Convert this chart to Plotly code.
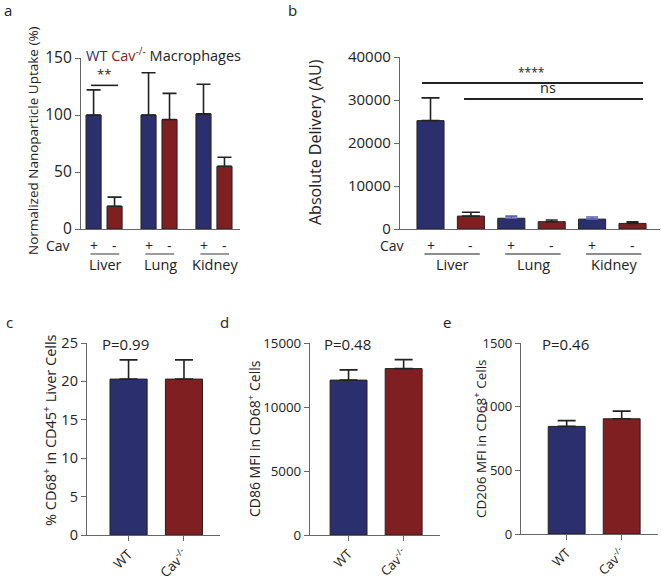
import plotly.graph_objects as go

W, H = 661, 579
BLUE = "#2b2f6e"
RED = "#7f1f22"
INK = "#222222"
AXC = "#666666"
FONT = "Open Sans"

# panel a: normalized uptake (%)
organs = ["Liver", "Lung", "Kidney"]
a_wt = [100, 100, 101]
a_wt_err = [22, 37, 26]
a_ko = [20, 96, 55]
a_ko_err = [8, 23, 8]

# panel b: absolute delivery (AU)
b_wt = [25200, 2500, 2300]
b_wt_err = [5300, 500, 500]
b_ko = [3000, 1700, 1300]
b_ko_err = [900, 400, 400]

# panels c-e
genotypes = ["WT", "Cav<sup>-/-</sup>"]
c_vals, c_err = [20.3, 20.3], [2.5, 2.5]
d_vals, d_err = [12100, 13000], [800, 700]
e_vals, e_err = [845, 905], [45, 60]
p_values = ["P=0.99", "P=0.48", "P=0.46"]


def px(x):
    return x / W


def py(y):
    return 1 - y / H


fig = go.Figure()


def bar(x, y, err, color, ax, width, cap, errcolor=INK):
    fig.add_trace(go.Bar(
        x=x, y=y, width=width, marker=dict(color=color, line=dict(color=INK, width=1)),
        error_y=dict(type="data", array=err, arrayminus=[0] * len(err), symmetric=False,
                     color=errcolor, thickness=1.6, width=cap),
        xaxis="x" + ax, yaxis="y" + ax, showlegend=False))


# panel a
gap_a = 2.62
a_pos_wt = [i * gap_a for i in range(3)]
a_pos_ko = [p + 1 for p in a_pos_wt]
bar(a_pos_wt, a_wt, a_wt_err, BLUE, "", 0.72, 7)
bar(a_pos_ko, a_ko, a_ko_err, RED, "", 0.72, 7)

# panel b
b_pos_wt = [2 * i for i in range(3)]
b_pos_ko = [p + 1 for p in b_pos_wt]
bar(b_pos_wt[:1], b_wt[:1], b_wt_err[:1], BLUE, "2", 0.67, 9)
bar(b_pos_wt[1:], b_wt[1:], b_wt_err[1:], BLUE, "2", 0.67, 6, errcolor="#5a5fb0")
bar(b_pos_ko[:1], b_ko[:1], b_ko_err[:1], RED, "2", 0.67, 9)
bar(b_pos_ko[1:], b_ko[1:], b_ko_err[1:], RED, "2", 0.67, 6)

# panels c, d, e
for ax, vals, err in [("3", c_vals, c_err), ("4", d_vals, d_err), ("5", e_vals, e_err)]:
    bar([0], vals[:1], err[:1], BLUE, ax, 0.67, 9)
    bar([1], vals[1:], err[1:], RED, ax, 0.67, 9)


def axis(size, **kw):
    d = dict(showline=True, linecolor=AXC, linewidth=1.3, zeroline=False, showgrid=False,
             tickfont=dict(family=FONT, size=size, color=INK), ticks="outside",
             tickcolor=AXC, ticklen=5, tickwidth=1.3, automargin=False)
    d.update(kw)
    return d


fig.update_layout(
    width=W, height=H, margin=dict(l=0, r=0, t=0, b=0),
    plot_bgcolor="white", paper_bgcolor="white",
    font=dict(family=FONT, color=INK),
    xaxis=axis(15, domain=[px(81), px(240)], range=[-0.6, 6.98], anchor="y",
               ticks="", showticklabels=False),
    yaxis=axis(15.5, domain=[py(229), py(58)], range=[0, 150], anchor="x",
               tickvals=[0, 50, 100, 150]),
    xaxis2=axis(15, domain=[px(400), px(660)], range=[-0.755, 5.68], anchor="y2",
                ticks="", showticklabels=False),
    yaxis2=axis(15, domain=[py(229), py(57)], range=[0, 40000], anchor="x2",
                tickvals=[0, 10000, 20000, 30000, 40000], tickformat="d"),
    xaxis3=axis(13.5, domain=[px(87), px(220)], range=[-0.75, 1.65], anchor="y3",
                tickvals=[0, 1], ticktext=genotypes, tickangle=-45),
    yaxis3=axis(14.5, domain=[py(535), py(343)], range=[0, 25], anchor="x3",
                tickvals=[0, 5, 10, 15, 20, 25]),
    xaxis4=axis(13, domain=[px(310), px(440)], range=[-0.7, 1.66], anchor="y4",
                tickvals=[0, 1], ticktext=genotypes, tickangle=-45),
    yaxis4=axis(13.3, domain=[py(535), py(343)], range=[0, 15000], anchor="x4",
                tickvals=[0, 5000, 10000, 15000], tickformat="d"),
    xaxis5=axis(13, domain=[px(521), px(658)], range=[-0.83, 1.66], anchor="y5",
                tickvals=[0, 1], ticktext=genotypes, tickangle=-45),
    yaxis5=axis(13, domain=[py(534), py(343)], range=[0, 1500], anchor="x5",
                tickvals=[0, 500, 1000, 1500], tickformat="d"),
)

ann = []


def text(x, y, s, size=14, xref="paper", yref="paper", xanchor="center", yanchor="middle",
         angle=0, color=INK):
    ann.append(dict(x=x, y=y, text=s, xref=xref, yref=yref, xanchor=xanchor, yanchor=yanchor,
                    textangle=angle, showarrow=False,
                    font=dict(family=FONT, size=size, color=color)))


# panel letters
for letter, lx, ly in [("a", 8, 10), ("b", 292, 10), ("c", 9, 322), ("d", 224, 322), ("e", 447, 322)]:
    text(px(lx), py(ly), letter, size=15)

# y-axis titles
text(px(33), py(141), "Normalized Nanoparticle Uptake (%)", size=13.5, angle=-90)
text(px(315), py(142), "Absolute Delivery (AU)", size=16, angle=-90)
text(px(49), py(430), "% CD68<sup>+</sup> in CD45<sup>+</sup> Liver Cells", size=14.5, angle=-90)
text(px(254), py(439), "CD86 MFI in CD68<sup>+</sup> Cells", size=14, angle=-90)
text(px(480), py(439), "CD206 MFI in CD68<sup>+</sup> Cells", size=13.5, angle=-90)

# legend text in panel a
text(px(84), py(55), f"<span style='color:{BLUE}'>WT</span> "
     f"<span style='color:{RED}'>Cav<sup>-/-</sup></span> Macrophages", size=14.5, xanchor="left")

# p values
for ax, xpos in [("3", 100), ("4", 322), ("5", 540)]:
    text(px(xpos), py(344), p_values[int(ax) - 3], size=15, xanchor="left")

shapes = []

# Cav rows and organ labels
for ax, pos_wt, pos_ko, cav_x in [("", a_pos_wt, a_pos_ko, 58), ("2", b_pos_wt, b_pos_ko, 392)]:
    xr = "x" + ax
    text(px(cav_x), py(245), "Cav", size=14)
    for i, organ in enumerate(organs):
        text(pos_wt[i], py(245), "+", size=14, xref=xr)
        text(pos_ko[i], py(245), "-", size=14, xref=xr)
        shapes.append(dict(type="line", xref=xr, yref="paper", x0=pos_wt[i] - 0.15,
                           x1=pos_ko[i] + 0.22, y0=py(254), y1=py(254),
                           line=dict(color=AXC, width=1.3)))
        text((pos_wt[i] + pos_ko[i]) / 2 + 0.05, py(265), organ, size=14.5, xref=xr)

# significance bars
shapes.append(dict(type="line", xref="x", yref="y", x0=-0.12, x1=1.17, y0=126, y1=126,
                   line=dict(color=INK, width=1.6)))
text(0.52, 126, "**", size=13, xref="x", yref="y", yanchor="bottom")
shapes.append(dict(type="line", xref="x2", yref="y2", x0=-0.21, x1=5.26, y0=33950, y1=33950,
                   line=dict(color=INK, width=2)))
text(2.5, 33950, "****", size=12, xref="x2", yref="y2", yanchor="bottom")
shapes.append(dict(type="line", xref="x2", yref="y2", x0=0.83, x1=5.26, y0=30230, y1=30230,
                   line=dict(color=INK, width=2)))
text(2.9, 30230, "ns", size=14.5, xref="x2", yref="y2", yanchor="bottom")

fig.update_layout(annotations=ann, shapes=shapes)
fig.write_html("out.html", config={"displayModeBar": False},
               post_script="document.body.style.margin='0px';")
